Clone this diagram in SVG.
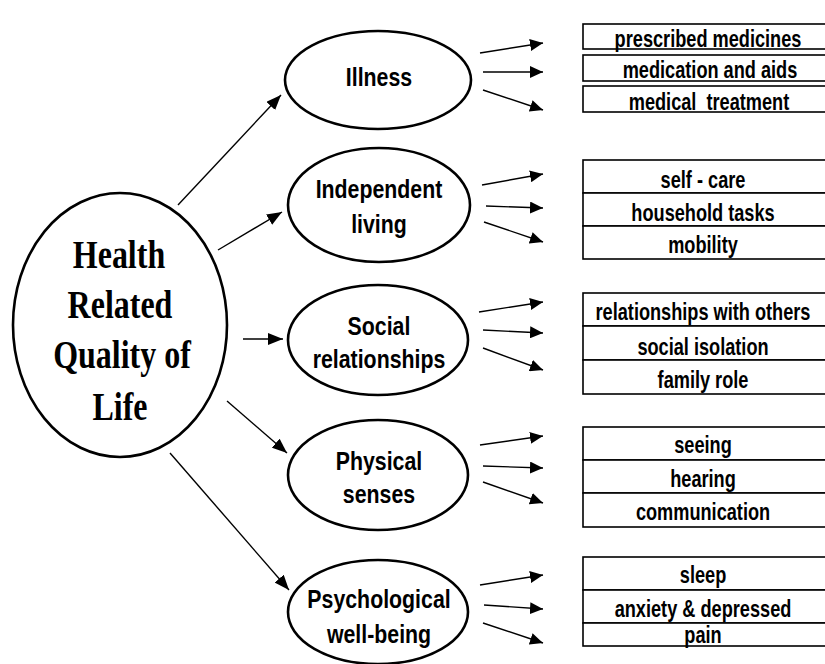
<svg xmlns="http://www.w3.org/2000/svg" width="825" height="664" viewBox="0 0 825 664">
<defs>
<style>
.ell{fill:#fff;stroke:#000;stroke-width:2.6}
.big{font-family:"Liberation Serif","Times New Roman",serif;font-weight:bold;font-size:41px;text-anchor:middle;fill:#000}
.mid{font-family:"Liberation Sans",Arial,sans-serif;font-weight:bold;font-size:26px;text-anchor:middle;fill:#000}
.box{fill:#fff;stroke:#000;stroke-width:1.6}
.lbl{font-family:"Liberation Sans",Arial,sans-serif;font-weight:bold;font-size:23px;text-anchor:middle;fill:#000}
.con{stroke:#000;stroke-width:1.4;fill:none;marker-end:url(#ah)}
.con2{stroke:#000;stroke-width:1.4;fill:none;marker-end:url(#ah2)}
</style>
<marker id="ah" markerUnits="userSpaceOnUse" markerWidth="16" markerHeight="12" refX="15" refY="6" orient="auto"><path d="M0,0 L15,6 L0,12 z" fill="#000"/></marker>
<marker id="ah2" markerUnits="userSpaceOnUse" markerWidth="14" markerHeight="12" refX="13" refY="6" orient="auto"><path d="M0,0 L13,6 L0,12 z" fill="#000"/></marker>
</defs>
<rect width="825" height="664" fill="#fff"/>

<g id="hrqol">
<ellipse class="ell" cx="120" cy="325" rx="107" ry="132"/>
<text class="big" transform="translate(119,268) scale(0.78,1)">Health</text>
<text class="big" transform="translate(120,318) scale(0.78,1)">Related</text>
<text class="big" transform="translate(122,368) scale(0.78,1)">Quality of</text>
<text class="big" transform="translate(120,420) scale(0.78,1)">Life</text>
</g>

<g id="illness">
<ellipse class="ell" cx="378" cy="80" rx="93" ry="49"/>
<text class="mid" transform="translate(379,86) scale(0.82,1)">Illness</text>
</g>
<g id="independent">
<ellipse class="ell" cx="379" cy="205" rx="91" ry="57"/>
<text class="mid" transform="translate(379,198) scale(0.82,1)">Independent</text>
<text class="mid" transform="translate(379,233) scale(0.82,1)">living</text>
</g>
<g id="social">
<ellipse class="ell" cx="378" cy="340" rx="90" ry="55"/>
<text class="mid" transform="translate(379,335) scale(0.82,1)">Social</text>
<text class="mid" transform="translate(379,368) scale(0.82,1)">relationships</text>
</g>
<g id="physical">
<ellipse class="ell" cx="378" cy="475" rx="90" ry="55"/>
<text class="mid" transform="translate(379,470) scale(0.82,1)">Physical</text>
<text class="mid" transform="translate(379,503) scale(0.82,1)">senses</text>
</g>
<g id="psychological">
<ellipse class="ell" cx="378" cy="612" rx="90" ry="52"/>
<text class="mid" transform="translate(379,608) scale(0.82,1)">Psychological</text>
<text class="mid" transform="translate(379,643) scale(0.82,1)">well-being</text>
</g>

<g id="illness-items">
<rect class="box" x="583" y="24" width="260" height="25"/>
<rect class="box" x="583" y="55" width="260" height="26"/>
<rect class="box" x="583" y="86" width="260" height="26"/>
<text class="lbl" transform="translate(708,47) scale(0.79,1)">prescribed medicines</text>
<text class="lbl" transform="translate(710,78) scale(0.79,1)">medication and aids</text>
<text class="lbl" transform="translate(709,110) scale(0.79,1)">medical&#160; treatment</text>
</g>
<g id="independent-items">
<rect class="box" x="583" y="160" width="260" height="33"/>
<rect class="box" x="583" y="193" width="260" height="33"/>
<rect class="box" x="583" y="226" width="260" height="33"/>
<text class="lbl" transform="translate(703,188) scale(0.79,1)">self - care</text>
<text class="lbl" transform="translate(703,221) scale(0.79,1)">household tasks</text>
<text class="lbl" transform="translate(703,253) scale(0.79,1)">mobility</text>
</g>
<g id="social-items">
<rect class="box" x="583" y="293" width="260" height="33"/>
<rect class="box" x="583" y="326" width="260" height="34"/>
<rect class="box" x="583" y="360" width="260" height="34"/>
<text class="lbl" transform="translate(703,320) scale(0.79,1)">relationships with others</text>
<text class="lbl" transform="translate(703,355) scale(0.79,1)">social isolation</text>
<text class="lbl" transform="translate(703,388) scale(0.79,1)">family role</text>
</g>
<g id="physical-items">
<rect class="box" x="583" y="427" width="260" height="33"/>
<rect class="box" x="583" y="460" width="260" height="33"/>
<rect class="box" x="583" y="493" width="260" height="34"/>
<text class="lbl" transform="translate(703,453) scale(0.79,1)">seeing</text>
<text class="lbl" transform="translate(703,487) scale(0.79,1)">hearing</text>
<text class="lbl" transform="translate(703,520) scale(0.79,1)">communication</text>
</g>
<g id="psychological-items">
<rect class="box" x="583" y="557" width="260" height="33"/>
<rect class="box" x="583" y="590" width="260" height="33"/>
<rect class="box" x="583" y="623" width="260" height="23"/>
<text class="lbl" transform="translate(703,583) scale(0.79,1)">sleep</text>
<text class="lbl" transform="translate(703,617) scale(0.79,1)">anxiety &amp; depressed</text>
<text class="lbl" transform="translate(703,643) scale(0.79,1)">pain</text>
</g>

<g id="connectors">
<line class="con" x1="178" y1="205" x2="281" y2="95"/>
<line class="con" x1="218" y1="250" x2="282" y2="212"/>
<line class="con" x1="243" y1="339" x2="283" y2="339"/>
<line class="con" x1="227" y1="401" x2="287" y2="453"/>
<line class="con" x1="170" y1="453" x2="289" y2="590"/>

<line class="con2" x1="480" y1="53" x2="543" y2="43"/>
<line class="con2" x1="483" y1="72" x2="543" y2="72"/>
<line class="con2" x1="483" y1="90" x2="543" y2="110"/>

<line class="con2" x1="482" y1="185" x2="543" y2="174"/>
<line class="con2" x1="486" y1="206" x2="543" y2="208"/>
<line class="con2" x1="484" y1="222" x2="543" y2="242"/>

<line class="con2" x1="479" y1="312" x2="543" y2="302"/>
<line class="con2" x1="483" y1="330" x2="543" y2="333"/>
<line class="con2" x1="483" y1="348" x2="543" y2="370"/>

<line class="con2" x1="480" y1="445" x2="543" y2="436"/>
<line class="con2" x1="483" y1="466" x2="543" y2="468"/>
<line class="con2" x1="483" y1="482" x2="543" y2="503"/>

<line class="con2" x1="480" y1="585" x2="543" y2="575"/>
<line class="con2" x1="484" y1="605" x2="543" y2="609"/>
<line class="con2" x1="483" y1="623" x2="543" y2="643"/>
</g>
</svg>
